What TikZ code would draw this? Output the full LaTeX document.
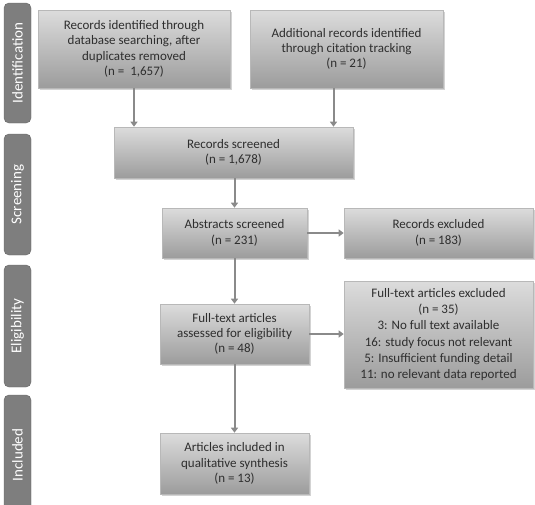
\documentclass[tikz,border=0pt]{standalone}
\usepackage{fontspec}
\setmainfont{Carlito}
\usepackage{tikz}
\usetikzlibrary{arrows.meta,positioning,shadows,calc}
\definecolor{boxtop}{HTML}{DCDCDC}
\definecolor{boxbot}{HTML}{9C9C9C}
\definecolor{boxline}{HTML}{B8B8B8}
\definecolor{txt}{HTML}{2E2E2E}
\definecolor{phase}{HTML}{7E7E7E}
\definecolor{arrowgray}{HTML}{8A8A8A}

\begin{document}
\begin{tikzpicture}[x=1pt,y=-1pt,
  box/.style={draw=boxline,line width=0.6pt,top color=boxtop,bottom color=boxbot,
    text=txt,align=center,font=\fontsize{13}{15.3}\selectfont,inner sep=1pt,
    drop shadow={shadow xshift=1.5pt,shadow yshift=-1.5pt,opacity=0.35}},
  phasebox/.style={draw=phase!80!black,fill=phase,rounded corners=5pt,rotate=90,
    text=white,font=\fontsize{15}{17}\selectfont,minimum height=27pt,inner sep=0pt},
  arr/.style={draw=arrowgray,line width=2pt,-{Triangle[width=7pt,length=5pt]}}]
\useasboundingbox (0,0) rectangle (535,504);
\clip (0,0) rectangle (535,504);
% phase labels
\node[phasebox,minimum width=120pt] (pid) at (17.5,63) {Identification};
\node[phasebox,minimum width=121pt] (pscr) at (17.5,194.5) {Screening};
\node[phasebox,minimum width=122pt] (pel) at (17.5,326) {Eligibility};
\node[phasebox,minimum width=120pt] (pinc) at (17.5,455) {Included};
% boxes
\node[box,minimum width=192pt,minimum height=78pt] (db) at (134,49)
  {Records identified through\\database searching, after\\duplicates removed\\(n =\ \ 1,657)};
\node[box,minimum width=193pt,minimum height=78pt] (cit) at (346.5,49)
  {Additional records identified\\through citation tracking\\(n = 21)};
\node[box,minimum width=239pt,minimum height=51pt] (scr) at (233.5,152.5)
  {Records screened\\(n = 1,678)};
\node[box,minimum width=145pt,minimum height=50pt] (abs) at (234.5,233)
  {Abstracts screened\\(n = 231)};
\node[box,minimum width=189pt,minimum height=50pt] (exc) at (438.5,233)
  {Records excluded\\(n = 183)};
\node[box,minimum width=149pt,minimum height=60pt] (full) at (234.5,334)
  {Full-text articles\\assessed for eligibility\\(n = 48)};
\node[box,minimum width=189pt,minimum height=107pt,font=\fontsize{13}{16.2}\selectfont] (fexc) at (438.5,334.5)
  {Full-text articles excluded\\(n = 35)\\3: No full text available\\16: study focus not relevant\\5: Insufficient funding detail\\11: no relevant data reported};
\node[box,minimum width=149pt,minimum height=61pt] (inc) at (234.5,463.5)
  {Articles included in\\qualitative synthesis\\(n = 13)};
% arrows
\draw[arr] (db.south) -- (db.south |- scr.north);
\draw[arr] ($(cit.south)+(-13,0)$) -- ($(cit.south |- scr.north)+(-13,0)$);
\draw[arr] (scr.south -| abs.north) -- (abs.north);
\draw[arr] (abs.east) -- (exc.west);
\draw[arr] (abs.south) -- (full.north);
\draw[arr] (full.east) -- (full.east -| fexc.west);
\draw[arr] (full.south) -- (inc.north);
\end{tikzpicture}
\end{document}
